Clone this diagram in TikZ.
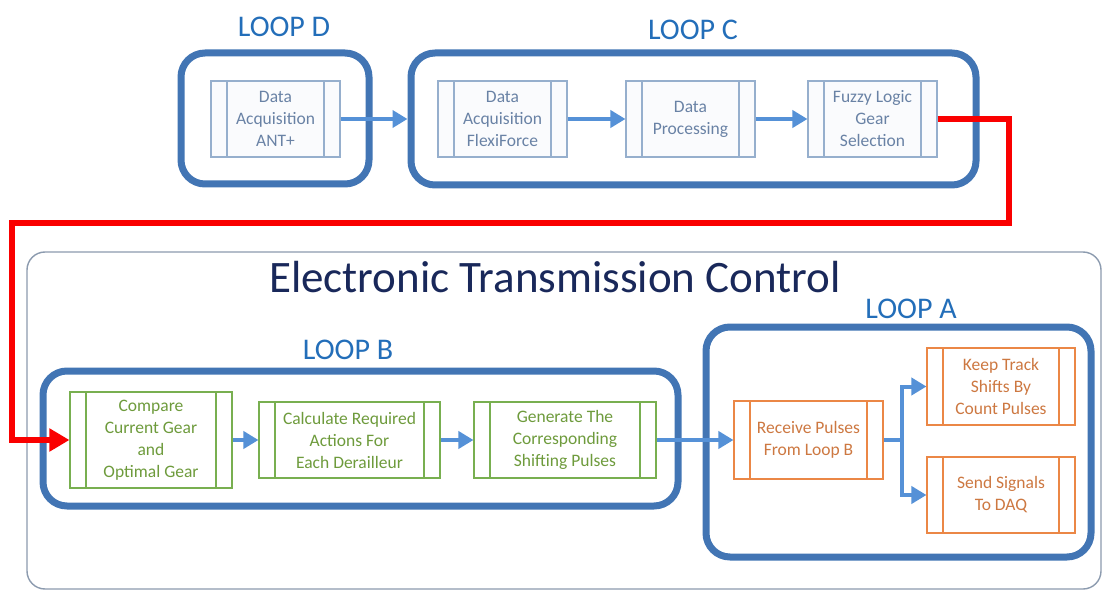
\documentclass[tikz,border=0pt]{standalone}
\usepackage{fontspec}
\setmainfont{Carlito}
\usetikzlibrary{arrows.meta}
\definecolor{loopblue}{RGB}{66,117,180}
\definecolor{looptext}{RGB}{35,110,185}
\definecolor{titlenavy}{RGB}{25,40,90}
\definecolor{flowblue}{RGB}{85,145,215}
\definecolor{topline}{RGB}{150,175,205}
\definecolor{toptext}{RGB}{105,130,165}
\definecolor{greenline}{RGB}{120,175,80}
\definecolor{greentext}{RGB}{110,155,60}
\definecolor{orangeline}{RGB}{235,135,70}
\definecolor{orangetext}{RGB}{205,120,65}
\definecolor{framegray}{RGB}{140,155,175}
\definecolor{signalred}{RGB}{250,0,0}
\begin{document}
\begin{tikzpicture}[x=1pt,y=-1pt,
  subproc/.style={draw=#1, line width=1.1pt, fill=white, inner sep=0pt, align=center,
    font=\fontsize{17.5}{22}\selectfont,
    path picture={\draw[#1, line width=1.1pt]
      ([xshift=16pt]path picture bounding box.north west) -- ([xshift=16pt]path picture bounding box.south west)
      ([xshift=-16pt]path picture bounding box.north east) -- ([xshift=-16pt]path picture bounding box.south east);}},
  topbox/.style={subproc=topline, text=toptext, fill={rgb,255:red,250;green,251;blue,253}},
  greenbox/.style={subproc=greenline, text=greentext},
  orangebox/.style={subproc=orangeline, text=orangetext},
  loopbox/.style={draw=loopblue, line width=7pt, rounded corners=24pt, inner sep=0pt},
  looplabel/.style={text=looptext, font=\fontsize{30}{36}\selectfont, inner sep=0pt},
  flow/.style={draw=flowblue, line width=4pt, -{Triangle[length=15pt,width=17pt]}},
  signal/.style={draw=signalred, line width=5.5pt, -{Triangle[length=20pt,width=22pt]}},
]
\useasboundingbox (0,0) rectangle (1104,591);
\fill[white] (0,0) rectangle (1104,591);

% outer frame of the transmission control block
\node[draw=framegray, line width=1.4pt, rounded corners=18pt, minimum width=1074pt, minimum height=337pt, inner sep=0pt] (frame) at (564,420.5) {};
\node[text=titlenavy, font=\fontsize{45}{50}\selectfont, inner sep=0pt] (title) at (555,277) {Electronic Transmission Control};

% loop containers
\node[loopbox, minimum width=188pt, minimum height=131pt] (loopD) at (275,118.5) {};
\node[loopbox, minimum width=565pt, minimum height=132pt] (loopC) at (693.5,119) {};
\node[loopbox, minimum width=635pt, minimum height=135pt] (loopB) at (360.5,438.5) {};
\node[loopbox, minimum width=385pt, minimum height=230pt] (loopA) at (898.5,442) {};

\node[looplabel] (labD) at (284,27) {LOOP D};
\node[looplabel] (labC) at (693,30) {LOOP C};
\node[looplabel] (labB) at (348,350) {LOOP B};
\node[looplabel] (labA) at (911,309) {LOOP A};

% process steps
\node[topbox, minimum width=129pt, minimum height=76pt] (ant) at (275.5,119) {Data\\Acquisition\\ANT+};
\node[topbox, minimum width=129pt, minimum height=76pt] (flexi) at (502.5,119) {Data\\Acquisition\\FlexiForce};
\node[topbox, minimum width=129pt, minimum height=76pt] (dproc) at (690.5,119) {Data\\Processing};
\node[topbox, minimum width=129pt, minimum height=76pt] (fuzzy) at (872.5,119) {Fuzzy Logic\\Gear\\Selection};

\node[greenbox, minimum width=162pt, minimum height=96pt] (cmp) at (151,440) {Compare\\Current Gear\\and\\Optimal Gear};
\node[greenbox, minimum width=181pt, minimum height=76pt] (calc) at (349.5,440) {Calculate Required\\Actions For\\Each Derailleur};
\node[greenbox, minimum width=182pt, minimum height=76pt] (gen) at (565,440) {Generate The\\Corresponding\\Shifting Pulses};

\node[orangebox, minimum width=149pt, minimum height=78pt] (recv) at (808.5,440) {Receive Pulses\\From Loop B};
\node[orangebox, minimum width=148pt, minimum height=77pt] (keep) at (1001,386.5) {Keep Track\\Shifts By\\Count Pulses};
\node[orangebox, minimum width=148pt, minimum height=76pt] (send) at (1001,495) {Send Signals\\To DAQ};

% data flow
\draw[flow] (ant.east) -- (loopC.west |- ant.east);
\draw[flow] (flexi) -- (dproc);
\draw[flow] (dproc) -- (fuzzy);
\draw[flow] (cmp) -- (calc);
\draw[flow] (calc) -- (gen);
\draw[flow] (gen.east) -- (recv.west);
\coordinate (split) at (902,440);
\draw[flow] (recv.east) -- (split) |- (keep.west);
\draw[flow] (split) |- (send.west);

% gear selection fed back into loop B
\coordinate (r1) at (1009,119);
\coordinate (r2) at (1009,223);
\coordinate (r3) at (12,223);
\coordinate (r4) at (12,440);
\draw[signal] (fuzzy.east) -- (r1) -- (r2) -- (r3) -- (r4) -- (cmp.west);
\end{tikzpicture}
\end{document}
